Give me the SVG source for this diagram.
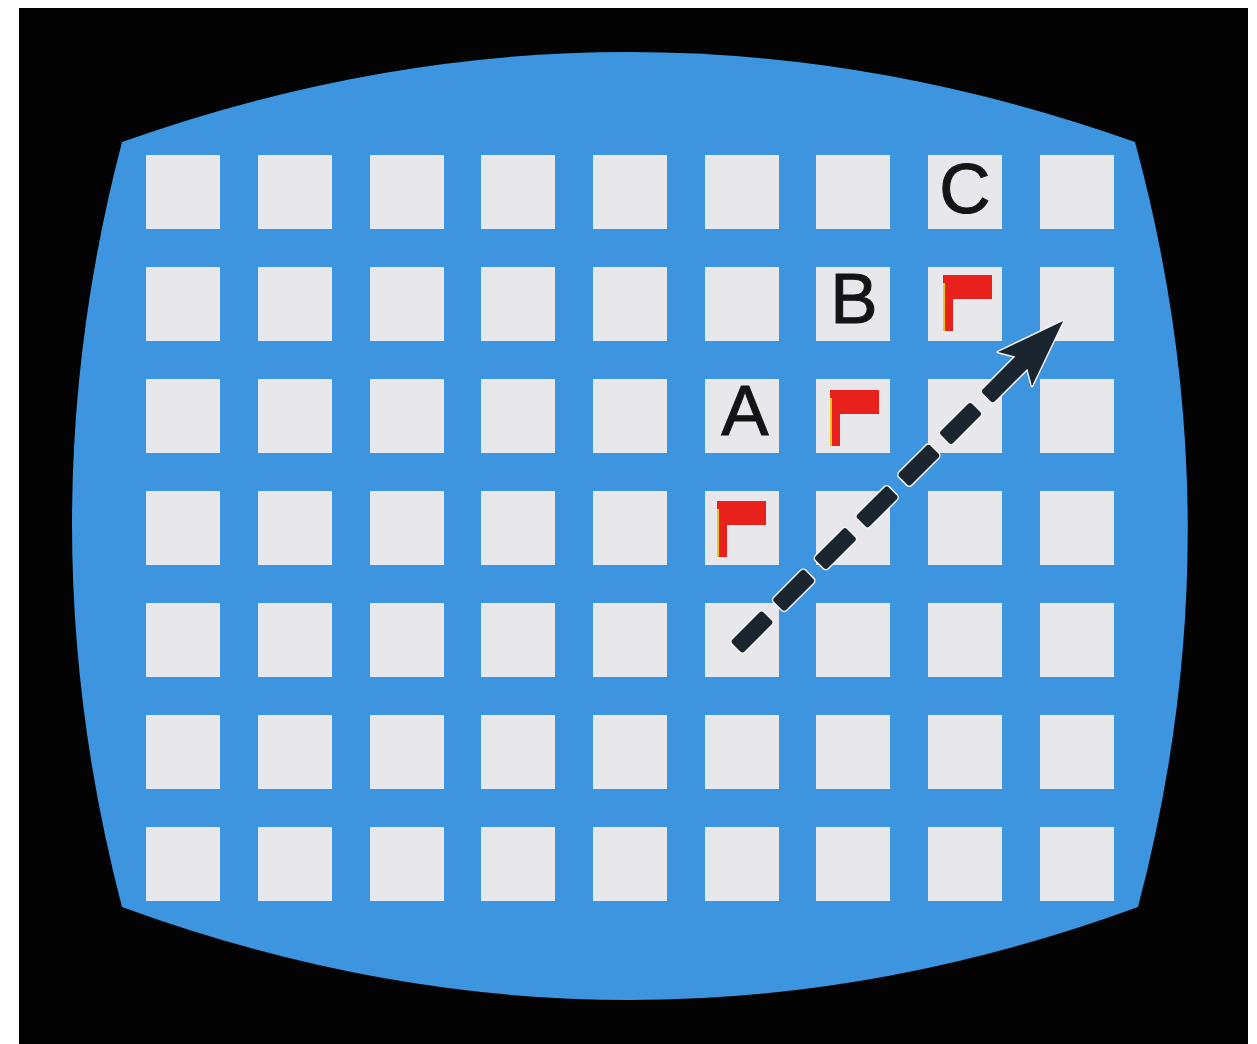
<svg xmlns="http://www.w3.org/2000/svg" width="1257" height="1044" viewBox="0 0 1257 1044">
<style>
.sq{fill:#e8e8ec}
.lbl{font-family:"Liberation Sans",Arial,sans-serif;font-size:71px;fill:#141414;stroke:#141414;stroke-width:1;text-anchor:middle}
.flag{fill:#e8211d}
.pole{fill:#e8211d}
.ys{fill:#f0c419}
.dash{fill:#1b2530;stroke:#f2f2f2;stroke-width:3;paint-order:stroke}
</style>
<defs>
<rect id="cell" class="sq" width="74" height="74"/>
<g id="flagShape">
<rect class="flag" x="0" y="0" width="49" height="24"/>
<rect class="pole" x="0" y="0" width="10" height="56"/>
<rect class="ys" x="0" y="8" width="2" height="48"/>
</g>
</defs>
<rect x="0" y="0" width="1257" height="1044" fill="#ffffff"/>
<rect x="19" y="8" width="1229" height="1036" fill="#030303"/>
<path id="screen" d="M122,142 Q628,-38 1135,142 Q1239,524 1138,907 Q630,1093 122,907 Q22,524 122,142 Z" fill="#3d95df"/>
<g id="grid">
<g id="row1">
<use href="#cell" x="146" y="155"/><use href="#cell" x="258" y="155"/><use href="#cell" x="370" y="155"/><use href="#cell" x="481" y="155"/><use href="#cell" x="593" y="155"/><use href="#cell" x="705" y="155"/><use href="#cell" x="816" y="155"/><use href="#cell" x="928" y="155"/><use href="#cell" x="1040" y="155"/>
</g>
<g id="row2">
<use href="#cell" x="146" y="267"/><use href="#cell" x="258" y="267"/><use href="#cell" x="370" y="267"/><use href="#cell" x="481" y="267"/><use href="#cell" x="593" y="267"/><use href="#cell" x="705" y="267"/><use href="#cell" x="816" y="267"/><use href="#cell" x="928" y="267"/><use href="#cell" x="1040" y="267"/>
</g>
<g id="row3">
<use href="#cell" x="146" y="379"/><use href="#cell" x="258" y="379"/><use href="#cell" x="370" y="379"/><use href="#cell" x="481" y="379"/><use href="#cell" x="593" y="379"/><use href="#cell" x="705" y="379"/><use href="#cell" x="816" y="379"/><use href="#cell" x="928" y="379"/><use href="#cell" x="1040" y="379"/>
</g>
<g id="row4">
<use href="#cell" x="146" y="491"/><use href="#cell" x="258" y="491"/><use href="#cell" x="370" y="491"/><use href="#cell" x="481" y="491"/><use href="#cell" x="593" y="491"/><use href="#cell" x="705" y="491"/><use href="#cell" x="816" y="491"/><use href="#cell" x="928" y="491"/><use href="#cell" x="1040" y="491"/>
</g>
<g id="row5">
<use href="#cell" x="146" y="603"/><use href="#cell" x="258" y="603"/><use href="#cell" x="370" y="603"/><use href="#cell" x="481" y="603"/><use href="#cell" x="593" y="603"/><use href="#cell" x="705" y="603"/><use href="#cell" x="816" y="603"/><use href="#cell" x="928" y="603"/><use href="#cell" x="1040" y="603"/>
</g>
<g id="row6">
<use href="#cell" x="146" y="715"/><use href="#cell" x="258" y="715"/><use href="#cell" x="370" y="715"/><use href="#cell" x="481" y="715"/><use href="#cell" x="593" y="715"/><use href="#cell" x="705" y="715"/><use href="#cell" x="816" y="715"/><use href="#cell" x="928" y="715"/><use href="#cell" x="1040" y="715"/>
</g>
<g id="row7">
<use href="#cell" x="146" y="827"/><use href="#cell" x="258" y="827"/><use href="#cell" x="370" y="827"/><use href="#cell" x="481" y="827"/><use href="#cell" x="593" y="827"/><use href="#cell" x="705" y="827"/><use href="#cell" x="816" y="827"/><use href="#cell" x="928" y="827"/><use href="#cell" x="1040" y="827"/>
</g>
</g>
<g id="labelA"><text class="lbl" x="745" y="435">A</text></g>
<g id="labelB"><text class="lbl" x="854" y="323">B</text></g>
<g id="labelC"><text class="lbl" x="965" y="213">C</text></g>
<g id="flag1"><use href="#flagShape" x="717" y="501"/></g>
<g id="flag2"><use href="#flagShape" x="830" y="390"/></g>
<g id="flag3"><use href="#flagShape" x="943" y="275"/></g>
<g id="connectors">
<g transform="translate(735,649) rotate(-45)">
<rect class="dash" x="2" y="-8.5" width="44" height="17" rx="3"/>
<rect class="dash" x="61" y="-8.5" width="44" height="17" rx="3"/>
<rect class="dash" x="120" y="-8.5" width="44" height="17" rx="3"/>
<rect class="dash" x="179" y="-8.5" width="44" height="17" rx="3"/>
<rect class="dash" x="238" y="-8.5" width="44" height="17" rx="3"/>
<rect class="dash" x="297" y="-8.5" width="44" height="17" rx="3"/>
<path class="dash" d="M359,-8.5 L405,-8.5 L396,-24 L464,0 L396,24 L405,8.5 L359,8.5 Q356,8.5 356,5.5 L356,-5.5 Q356,-8.5 359,-8.5 Z" stroke-linejoin="round"/>
</g>
</g>
</svg>
